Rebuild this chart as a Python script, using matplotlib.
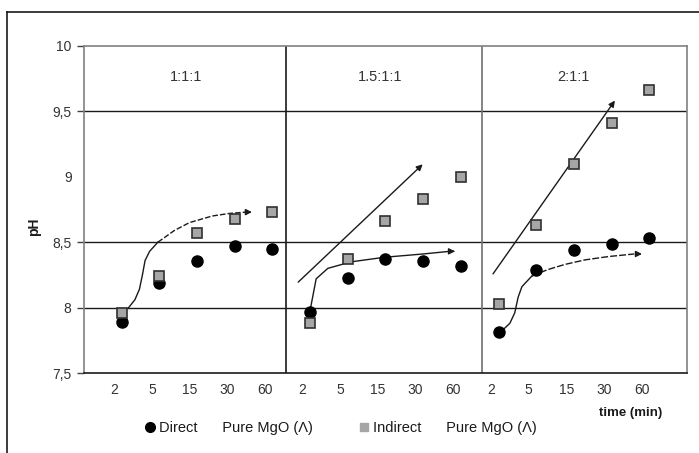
import matplotlib
matplotlib.use('Agg')
import matplotlib.pyplot as plt
from matplotlib.lines import Line2D

plt.rcParams['font.family'] = ['Liberation Sans', 'DejaVu Sans']

# Datos
ratios = ['1:1:1', '1.5:1:1', '2:1:1']
times = ['2', '5', '15', '30', '60']
direct = [7.89, 8.19, 8.36, 8.47, 8.445,
          7.97, 8.23, 8.37, 8.36, 8.32,
          7.81, 8.29, 8.44, 8.49, 8.53]
indirect = [7.96, 8.24, 8.57, 8.68, 8.73,
            7.88, 8.37, 8.66, 8.83, 9.00,
            8.03, 8.63, 9.10, 9.41, 9.66]

# Flechas de tendencia (coordenadas de datos: índice, pH)
curve1_x = [0.17, 0.35, 0.47, 0.55, 0.62, 0.74, 0.96, 1.4, 1.8, 2.4, 2.86, 3.3]
curve1_y = [7.995, 8.06, 8.14, 8.25, 8.36, 8.43, 8.50, 8.59, 8.65, 8.70, 8.72, 8.73]
line2 = [(4.63, 8.18), (8.04, 9.11)]
curve2_x = [5.01, 5.16, 5.47, 6.09, 6.98, 8.0, 8.7]
curve2_y = [7.995, 8.22, 8.30, 8.35, 8.385, 8.41, 8.43]
line3 = [(9.81, 8.24), (13.13, 9.60)]
curve3_x = [10.08, 10.3, 10.43, 10.52, 10.62, 10.88, 11.3, 11.76, 12.3, 12.91, 13.6]
curve3_y = [7.82, 7.88, 7.96, 8.08, 8.16, 8.24, 8.29, 8.33, 8.365, 8.39, 8.41]

dividers = [4.35, 9.55]

fig = plt.figure(figsize=(6.99, 4.53), dpi=100)
ax = fig.add_axes([0.1202, 0.1766, 0.8626, 0.7219])

xs = list(range(len(direct)))
ax.plot(xs, direct, 'o', color='black', markersize=8, zorder=3)
ax.plot(xs, indirect, 's', color='#a6a6a6', markeredgecolor='#303030',
        markeredgewidth=1.2, markersize=7.5, zorder=4)

ax.set_xlim(-1, 15)
ax.set_ylim(7.5, 10)

# Rejilla y separadores
for g in [8, 8.5, 9.5]:
    ax.axhline(g, color='#1a1a1a', lw=1, zorder=1)
ax.axvline(dividers[0], color='#1a1a1a', lw=1.2, zorder=1)
ax.axvline(dividers[1], color='#707070', lw=1.2, zorder=1)

label_x = [1.7, 6.85, 12.0]
for lx, r in zip(label_x, ratios):
    ax.text(lx, 9.76, r, ha='center', va='center', fontsize=10.5, color='#333333')

# Flechas
def arrow_curve(cx, cy, ls):
    ax.plot(cx, cy, color='#1a1a1a', lw=1, ls=ls, zorder=2)

def head(tip, start):
    ax.annotate('', xy=tip, xytext=start,
                arrowprops=dict(arrowstyle='-|>', color='#1a1a1a', lw=1, mutation_scale=9))

arrow_curve(curve1_x[:7], curve1_y[:7], '-')
arrow_curve(curve1_x[6:], curve1_y[6:], (0, (4, 1.5)))
head((3.53, 8.73), (curve1_x[-1], curve1_y[-1]))

head(line2[1], line2[0])
arrow_curve(curve2_x, curve2_y, '-')
head((8.92, 8.43), (curve2_x[-1], curve2_y[-1]))

head(line3[1], line3[0])
arrow_curve(curve3_x[:6], curve3_y[:6], '-')
arrow_curve(curve3_x[5:], curve3_y[5:], (0, (5, 1.5)))
head((13.88, 8.41), (curve3_x[-1], curve3_y[-1]))

# Ejes
ax.set_yticks([7.5, 8, 8.5, 9, 9.5, 10])
ax.set_yticklabels(['7,5', '8', '8,5', '9', '9,5', '10'])
ax.tick_params(axis='y', length=5, width=1, color='#404040', pad=4,
               labelsize=10, labelcolor='#333333')
ax.yaxis.get_major_ticks()[3].tick1line.set_visible(False)
ax.set_xticks([i - 0.2 for i in xs])
ax.set_xticklabels(times * 3)
ax.tick_params(axis='x', length=0, pad=7, labelsize=10, labelcolor='#333333')
for s in ['left', 'top', 'right']:
    ax.spines[s].set_color('#808080')
    ax.spines[s].set_linewidth(1.2)
ax.spines['bottom'].set_color('#1a1a1a')
ax.spines['bottom'].set_linewidth(1.2)

fig.text(34 / 699, 1 - 227 / 453, 'pH', rotation=90, ha='center', va='center',
         fontsize=10, fontweight='bold', color='#1a1a1a')
fig.text(631 / 699, 1 - 413 / 453, 'time (min)', ha='center', va='center',
         fontsize=9.5, fontweight='bold', color='#1a1a1a')

handles = [Line2D([], [], ls='none', marker='o', color='black', markersize=7),
           Line2D([], [], ls='none', marker='s', color='#a6a6a6', markersize=6)]
fig.legend(handles, ['Direct      Pure MgO (Λ)', 'Indirect      Pure MgO (Λ)'],
           loc='center', bbox_to_anchor=(341 / 699, 1 - 428 / 453), ncol=2,
           frameon=False, fontsize=10.5, handlelength=0.6, handletextpad=0.3,
           columnspacing=3.2, labelcolor='#1a1a1a')

# Marco exterior
fig.add_artist(Line2D([7 / 699, 7 / 699], [0, 1 - 12 / 453], transform=fig.transFigure,
                      color='#1a1a1a', lw=1.2))
fig.add_artist(Line2D([7 / 699, 1], [1 - 12 / 453, 1 - 12 / 453], transform=fig.transFigure,
                      color='#1a1a1a', lw=1.2))

fig.savefig('out.png', dpi=100)
